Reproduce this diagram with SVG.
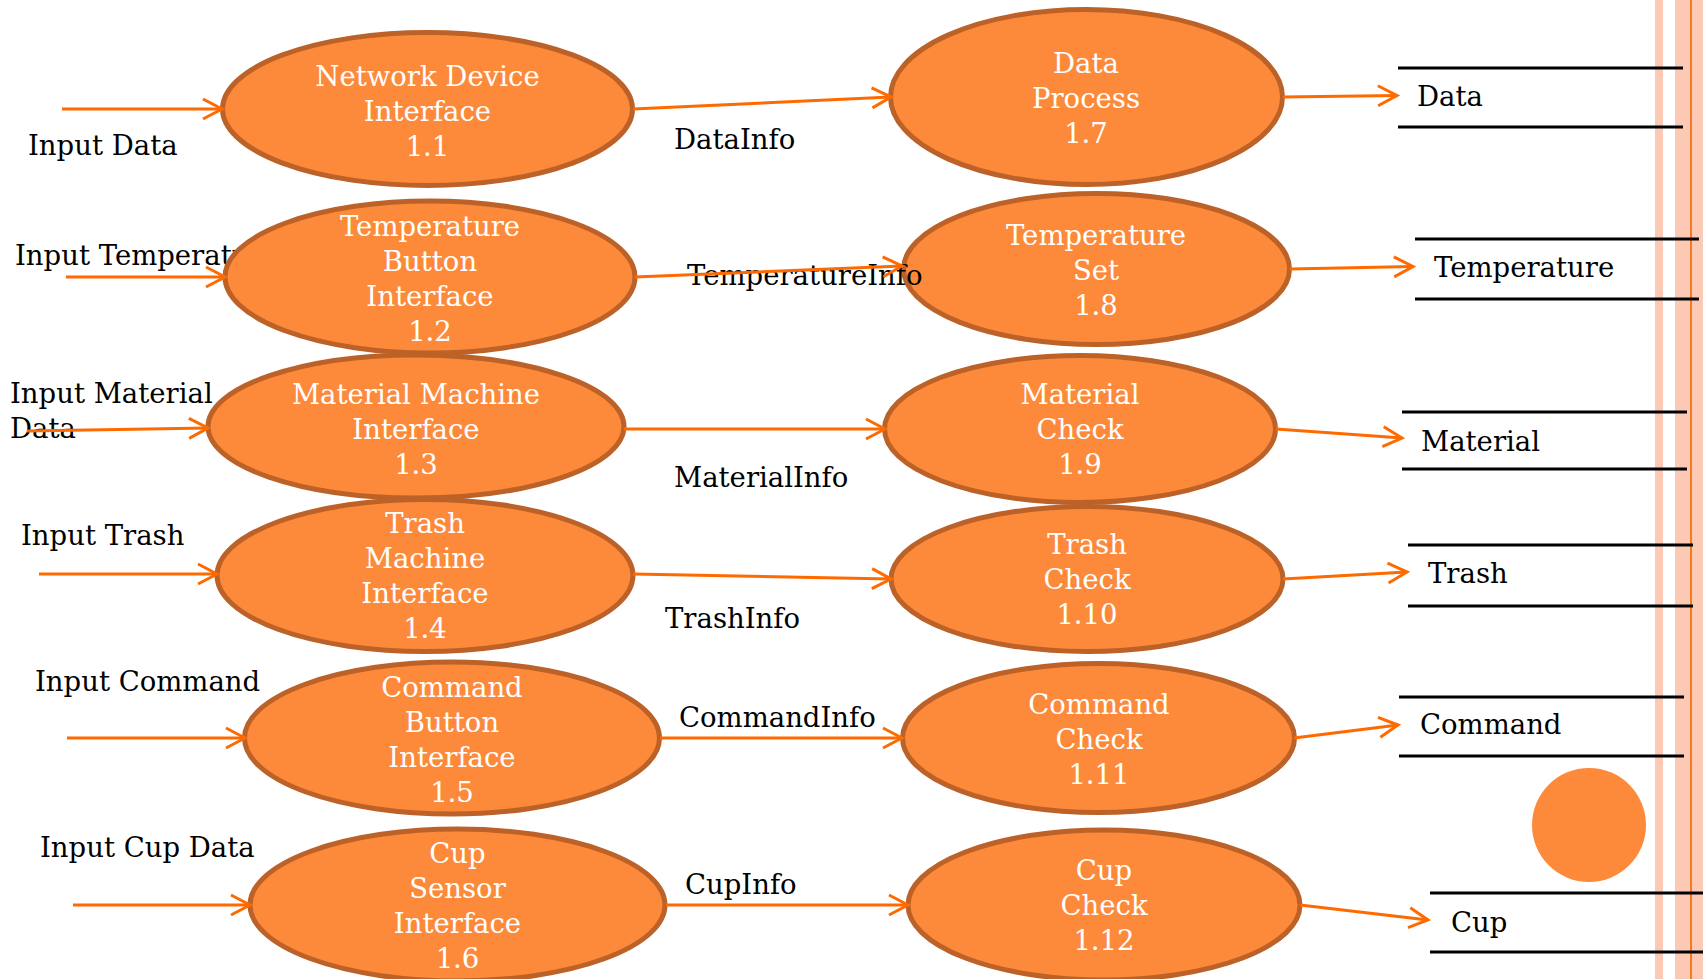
<svg xmlns="http://www.w3.org/2000/svg" width="1703" height="979" viewBox="0 0 1703 979">
<style>
text{font-family:"DejaVu Serif","Liberation Serif",serif;font-size:27.5px}
.lbl{fill:#000}
.nt{fill:#fff;text-anchor:middle}
.bub{fill:#FD8A3B;stroke:#BC6228;stroke-width:5}
.flow{stroke:#FF6A00;stroke-width:3;fill:none;marker-end:url(#arr)}
.sl{stroke:#000;stroke-width:3}
.stripe{fill:#FCC9B5}
</style>
<defs>
<marker id="arr" markerWidth="24" markerHeight="24" refX="21" refY="12" orient="auto" markerUnits="userSpaceOnUse" overflow="visible">
<path d="M2,2 L21,12 L2,22" fill="none" stroke="#FF6A00" stroke-width="3"/>
</marker>
</defs>
<rect width="1703" height="979" fill="#fff"/>
<rect class="stripe" x="1655" y="0" width="8" height="979"/>
<rect class="stripe" x="1675" y="0" width="28" height="979"/>
<line x1="1691" y1="0" x2="1691" y2="979" stroke="#F47A20" stroke-width="2"/>
<circle cx="1589" cy="825" r="57" fill="#FD8A3B"/>
<text class="lbl" x="15" y="265">Input Temperature</text>
<g id="n1_1"><ellipse class="bub" cx="427.5" cy="109" rx="205" ry="76.5"/><text class="nt"><tspan x="427.5" y="86">Network Device</tspan><tspan x="427.5" y="121">Interface</tspan><tspan x="427.5" y="156">1.1</tspan></text></g>
<g id="n1_2"><ellipse class="bub" cx="430" cy="277" rx="205" ry="76"/><text class="nt"><tspan x="430" y="236">Temperature</tspan><tspan x="430" y="271">Button</tspan><tspan x="430" y="306">Interface</tspan><tspan x="430" y="341">1.2</tspan></text></g>
<g id="n1_3"><ellipse class="bub" cx="416" cy="426.5" rx="208" ry="71.5"/><text class="nt"><tspan x="416" y="404">Material Machine</tspan><tspan x="416" y="439">Interface</tspan><tspan x="416" y="474">1.3</tspan></text></g>
<g id="n1_4"><ellipse class="bub" cx="425" cy="575.5" rx="208" ry="76"/><text class="nt"><tspan x="425" y="533">Trash</tspan><tspan x="425" y="568">Machine</tspan><tspan x="425" y="603">Interface</tspan><tspan x="425" y="638">1.4</tspan></text></g>
<g id="n1_5"><ellipse class="bub" cx="452" cy="738" rx="207.5" ry="76"/><text class="nt"><tspan x="452" y="697">Command</tspan><tspan x="452" y="732">Button</tspan><tspan x="452" y="767">Interface</tspan><tspan x="452" y="802">1.5</tspan></text></g>
<g id="n1_6"><ellipse class="bub" cx="457.5" cy="905" rx="207.5" ry="76"/><text class="nt"><tspan x="457.5" y="863">Cup</tspan><tspan x="457.5" y="898">Sensor</tspan><tspan x="457.5" y="933">Interface</tspan><tspan x="457.5" y="968">1.6</tspan></text></g>
<g id="n1_7"><ellipse class="bub" cx="1086.5" cy="97" rx="196" ry="87.5"/><text class="nt"><tspan x="1086" y="73">Data</tspan><tspan x="1086" y="108">Process</tspan><tspan x="1086" y="143">1.7</tspan></text></g>
<g id="n1_8"><ellipse class="bub" cx="1096.5" cy="269" rx="193" ry="75.5"/><text class="nt"><tspan x="1096" y="245">Temperature</tspan><tspan x="1096" y="280">Set</tspan><tspan x="1096" y="315">1.8</tspan></text></g>
<g id="n1_9"><ellipse class="bub" cx="1080" cy="429" rx="195.5" ry="73.5"/><text class="nt"><tspan x="1080" y="404">Material</tspan><tspan x="1080" y="439">Check</tspan><tspan x="1080" y="474">1.9</tspan></text></g>
<g id="n1_10"><ellipse class="bub" cx="1087" cy="579" rx="196" ry="72.5"/><text class="nt"><tspan x="1087" y="554">Trash</tspan><tspan x="1087" y="589">Check</tspan><tspan x="1087" y="624">1.10</tspan></text></g>
<g id="n1_11"><ellipse class="bub" cx="1098.5" cy="738" rx="196" ry="74.5"/><text class="nt"><tspan x="1099" y="714">Command</tspan><tspan x="1099" y="749">Check</tspan><tspan x="1099" y="784">1.11</tspan></text></g>
<g id="n1_12"><ellipse class="bub" cx="1104" cy="905" rx="196" ry="75"/><text class="nt"><tspan x="1104" y="880">Cup</tspan><tspan x="1104" y="915">Check</tspan><tspan x="1104" y="950">1.12</tspan></text></g>
<g id="s_data"><line class="sl" x1="1398" y1="68" x2="1683" y2="68"/><line class="sl" x1="1398" y1="127" x2="1683" y2="127"/><text class="lbl" x="1417" y="106">Data</text></g>
<g id="s_temperature"><line class="sl" x1="1415" y1="239" x2="1699" y2="239"/><line class="sl" x1="1415" y1="299" x2="1699" y2="299"/><text class="lbl" x="1434" y="277">Temperature</text></g>
<g id="s_material"><line class="sl" x1="1402" y1="412" x2="1687" y2="412"/><line class="sl" x1="1402" y1="469" x2="1687" y2="469"/><text class="lbl" x="1421" y="451">Material</text></g>
<g id="s_trash"><line class="sl" x1="1408" y1="545" x2="1693" y2="545"/><line class="sl" x1="1408" y1="606" x2="1693" y2="606"/><text class="lbl" x="1428" y="583">Trash</text></g>
<g id="s_command"><line class="sl" x1="1399" y1="697" x2="1684" y2="697"/><line class="sl" x1="1399" y1="756" x2="1684" y2="756"/><text class="lbl" x="1420" y="734">Command</text></g>
<g id="s_cup"><line class="sl" x1="1430" y1="893" x2="1703" y2="893"/><line class="sl" x1="1430" y1="952" x2="1703" y2="952"/><text class="lbl" x="1451" y="932">Cup</text></g>
<g id="labels">
<text class="lbl" x="28" y="155">Input Data</text>
<text class="lbl" x="10" y="403">Input Material</text>
<text class="lbl" x="10" y="438">Data</text>
<text class="lbl" x="21" y="545">Input Trash</text>
<text class="lbl" x="35" y="691">Input Command</text>
<text class="lbl" x="40" y="857">Input Cup Data</text>
<text class="lbl" x="674" y="149">DataInfo</text>
<text class="lbl" x="687" y="285">TemperatureInfo</text>
<text class="lbl" x="674" y="487">MaterialInfo</text>
<text class="lbl" x="665" y="628">TrashInfo</text>
<text class="lbl" x="679" y="727">CommandInfo</text>
<text class="lbl" x="685" y="894">CupInfo</text>
</g>
<g id="connectors">
<line class="flow" x1="62" y1="109" x2="222" y2="109"/>
<line class="flow" x1="66" y1="277" x2="225" y2="277"/>
<line class="flow" x1="27" y1="431" x2="208" y2="428"/>
<line class="flow" x1="39" y1="574" x2="217" y2="574"/>
<line class="flow" x1="67" y1="738" x2="245" y2="738"/>
<line class="flow" x1="73" y1="905" x2="250" y2="905"/>
<line class="flow" x1="633" y1="109" x2="891" y2="97"/>
<line class="flow" x1="635" y1="277" x2="902" y2="266"/>
<line class="flow" x1="624" y1="429" x2="885" y2="429"/>
<line class="flow" x1="633" y1="574" x2="891" y2="579"/>
<line class="flow" x1="660" y1="738" x2="902" y2="738"/>
<line class="flow" x1="666" y1="905" x2="908" y2="905"/>
<line class="flow" x1="1283" y1="97" x2="1397" y2="95.5"/>
<line class="flow" x1="1290" y1="269" x2="1413" y2="266.5"/>
<line class="flow" x1="1276" y1="429" x2="1402" y2="438"/>
<line class="flow" x1="1283" y1="579" x2="1407" y2="572"/>
<line class="flow" x1="1294" y1="738" x2="1398" y2="725"/>
<line class="flow" x1="1300" y1="905" x2="1428" y2="920"/>
</g>
</svg>
